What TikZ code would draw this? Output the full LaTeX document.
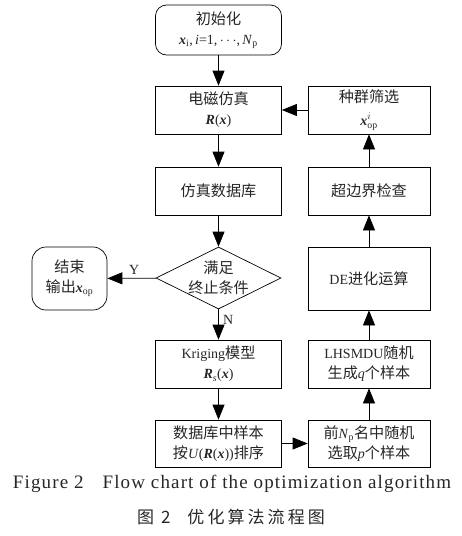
\documentclass[tikz,border=0pt]{standalone}
\usepackage{fontspec}
\setmainfont{Liberation Serif}
\newfontfamily\cjk{Noto Sans CJK SC}[Scale=1.08]
\newfontfamily\capcjk{Noto Sans CJK SC}[LetterSpace=18]
\newfontfamily\capfont{Liberation Serif}[LetterSpace=6]
\usetikzlibrary{arrows.meta,shapes.geometric}
\newcommand{\bx}{\textbf{\textit{x}}}
\newcommand{\bR}{\textbf{\textit{R}}}
\begin{document}
\begin{tikzpicture}[x=1pt,y=-1pt,
  every node/.style={font=\fontsize{14}{20}\selectfont\cjk, text=black!85},
  proc/.style={draw, line width=0.7pt, minimum width=126pt, minimum height=48pt, inner sep=1pt, align=center},
  rproc/.style={proc, minimum width=122pt},
  term/.style={proc, rounded corners=11pt},
  dec/.style={draw, line width=0.7pt, diamond, minimum width=125pt, minimum height=62pt, inner sep=0pt},
  arr/.style={-{Triangle[length=15pt,width=12pt]}, line width=0.7pt},
  lat/.style={font=\fontsize{14}{20}\selectfont\rmfamily}
]
\useasboundingbox (0,0) rectangle (462,536);
\node[term, minimum height=50pt] (init) at (218.5,30) {初始化\\{\rmfamily \bx\textsubscript{i},\,\textit{i}=1,\,$\cdots$,\,\textit{N}\textsubscript{p}}};
\node[proc] (em) at (218.5,110) {电磁仿真\\{\rmfamily \bR(\bx)}};
\node[proc] (db) at (218.5,191) {仿真数据库};
\node[dec, label={[align=center, inner sep=0pt]center:满足\\终止条件}] (dc) at (218.5,278) {};
\node[term, minimum width=75pt, minimum height=63pt, rounded corners=14pt] (end) at (69.5,278.5) {结束\\输出{\rmfamily\bx\textsubscript{op}}};
\node[proc] (krig) at (218.5,364) {{\rmfamily Kriging}模型\\{\rmfamily \bR\textsubscript{\textit{s}}(\bx)}};
\node[proc, minimum height=47pt] (sort) at (218.5,443.5) {数据库中样本\\按{\rmfamily\textit{U}(\bR(\bx))}排序};
\node[rproc, minimum height=47pt] (sel) at (369,443.5) {前{\rmfamily\textit{N}\textsubscript{p}}名中随机\\选取{\rmfamily\textit{p}}个样本};
\node[rproc] (lhs) at (369,364) {{\rmfamily LHSMDU}随机\\生成{\rmfamily\textit{q}}个样本};
\node[rproc, minimum height=63pt] (de) at (369,278.5) {{\rmfamily DE}进化运算};
\node[rproc] (bnd) at (369,191) {超边界检查};
\node[rproc] (pop) at (369,110) {种群筛选\\[3pt]{\rmfamily \bx$^{i}_{\mathrm{op}}$}};
\draw[arr] (init) -- (em);
\draw[arr] (em) -- (db);
\draw[arr] (db) -- (dc);
\draw[arr] (dc) -- node[lat, right=1pt, pos=0.35] {N} (krig);
\draw[arr] (dc) -- node[lat, above, pos=0.45] {Y} (end);
\draw[arr] (krig) -- (sort);
\draw[arr] (sort) -- (sel);
\draw[arr] (sel) -- (lhs);
\draw[arr] (lhs) -- (de);
\draw[arr] (de) -- (bnd);
\draw[arr] (bnd) -- (pop);
\draw[arr] (pop) -- (em);
\node[font=\fontsize{19}{22}\selectfont\capfont] (cap1) at (232,484) {Figure 2\quad Flow chart of the optimization algorithm};
\node[font=\fontsize{17}{20}\selectfont\capcjk] (cap2) at (231,517) {图 2\quad 优化算法流程图};
\end{tikzpicture}
\end{document}
